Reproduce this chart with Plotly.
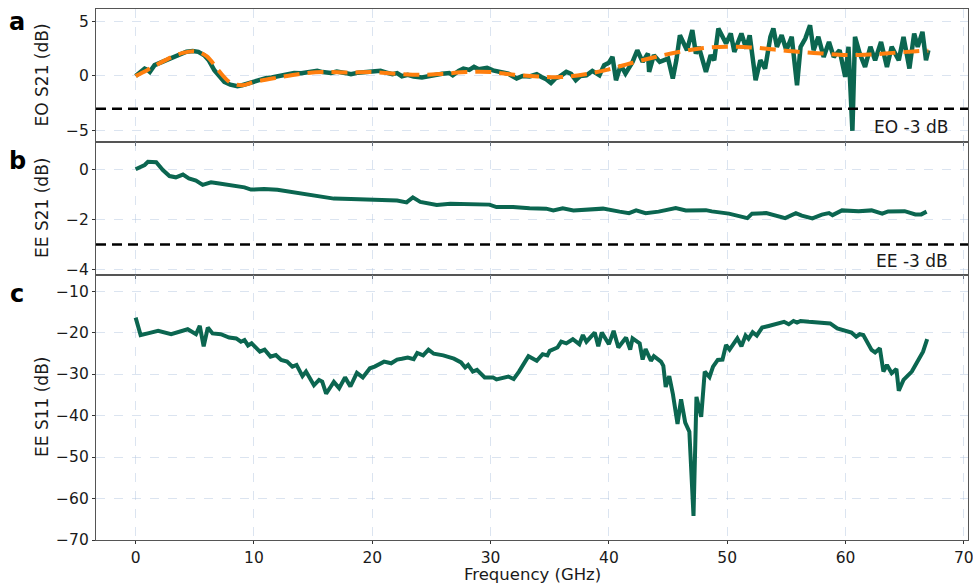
import plotly.graph_objects as go
from plotly.subplots import make_subplots

# ---------------- data ----------------
eo_freq = [0, 0.4, 0.76, 1.0, 1.2, 1.6, 2.2, 2.86, 3.4, 3.85, 4.3, 4.83, 5.3, 5.8, 6.2, 6.65, 7.1, 7.5, 8.0, 8.6,
           9.0, 9.5, 10.0, 10.4, 11.0, 11.5, 12.0, 12.5, 13.0, 13.4, 14.0, 14.5, 15.0, 15.35, 15.8, 16.5, 17.0, 17.3,
           17.8, 18.2, 18.8, 19.5, 20.0, 20.7, 21.2, 21.7, 22.1, 22.5, 23.0, 23.5, 24.2, 24.8, 25.4, 25.9, 26.5, 26.8,
           27.3, 27.7, 28.2, 28.6, 29.0, 29.3, 29.7, 30.2, 30.6, 31.0, 31.5, 32.2, 32.7, 33.3, 33.9, 34.3, 34.7, 35.1,
           35.5, 35.8, 36.4, 36.8, 37.2, 37.6, 38.1, 38.6, 39.2, 39.6, 40.0, 40.3, 40.6, 41.0, 41.4, 42.0, 42.4, 42.85,
           43.3, 43.4, 43.8, 44.3, 45.0, 45.4, 45.7, 46.0, 46.3, 46.6, 47.05, 47.35, 47.6, 48.2, 48.6, 48.9, 49.25,
           49.6, 49.9, 50.3, 50.6, 51.2, 51.6, 51.9, 52.4, 52.8, 53.2, 53.65, 53.9, 54.2, 54.6, 55.0, 55.45, 55.9,
           56.2, 56.6, 57.0, 57.3, 57.7, 58.15, 58.6, 59.0, 59.5, 59.97, 60.25, 60.58, 60.8, 61.2, 61.65, 62.1, 62.5,
           63.0, 63.5, 63.9, 64.5, 64.9, 65.4, 65.8, 66.1, 66.5, 66.8, 67.0]
eo_s21 = [0, 0.3, 0.67, 0.55, 0.37, 0.98, 1.25, 1.59, 1.9, 2.1, 2.2, 2.28, 2.2, 1.89, 1.4, 0.52, 0.0, -0.55, -0.8, -0.94,
          -0.85, -0.7, -0.5, -0.33, -0.2, -0.15, -0.03, 0.0, 0.15, 0.27, 0.25, 0.35, 0.38, 0.46, 0.35, 0.27, 0.4, 0.37,
          0.25, 0.15, 0.3, 0.35, 0.4, 0.46, 0.3, 0.15, 0.25, -0.03, 0.1, -0.05, -0.15, 0.0, 0.15, 0.2, 0.27, 0.06,
          0.46, 0.67, 0.55, 0.82, 0.6, 0.7, 0.73, 0.5, 0.4, 0.27, 0.2, -0.24, 0.0, -0.05, 0.15, -0.1, -0.3, -0.64,
          -0.2, -0.09, 0.37, 0.2, -0.39, 0.0, 0.06, 0.46, 0.06, 0.98, 1.2, 1.73, -0.39, 0.98, 0.22, 1.28, 2.34, 1.28,
          2.04, 0.37, 1.89, 1.28, 1.58, -0.24, 1.43, 3.71, 2.96, 2.34, 4.17, 2.04, 2.65, 0.37, 1.89, 1.43, 4.32,
          3.56, 2.96, 3.87, 2.19, 3.87, 2.5, 3.71, -0.39, 1.43, 0.67, 3.56, 4.32, 2.65, 3.71, 2.34, 3.56, -0.85,
          2.65, 3.41, 4.62, 2.34, 3.56, 1.73, 3.1, 1.73, 2.34, -0.09, 2.65, -5.0, 3.56, 2.04, 0.82, 2.65, 1.43,
          3.1, 0.82, 2.65, 1.43, 3.56, 0.67, 3.87, 2.65, 4.02, 1.43, 2.34]

fit_freq = [0, 1, 2, 3, 4, 5, 6, 7, 8, 9, 10, 12, 14, 16, 18, 20, 22, 24, 26, 28, 30, 32, 34, 36, 38, 40, 42, 44,
            46, 48, 50, 52, 54, 56, 58, 60, 62, 64, 66, 67]
fit_s21 = [0, 0.55, 1.15, 1.7, 2.1, 2.25, 1.8, 0.5, -0.6, -0.85, -0.55, -0.15, 0.2, 0.35, 0.3, 0.35, 0.2, 0.1, 0.2,
           0.35, 0.35, 0.1, -0.05, -0.1, 0.15, 0.6, 1.2, 1.75, 2.2, 2.55, 2.65, 2.6, 2.4, 2.2, 2.05, 1.9, 1.95, 2.1,
           2.25, 2.3]

ee21_freq = [0, 0.76, 1.04, 1.74, 2.3, 2.86, 3.4, 4.0, 4.5, 5.1, 5.67, 6.37, 6.93, 7.5, 8.6, 9.2, 9.74, 10.86, 11.98,
             13.67, 15.35, 16.75, 18.2, 19.56, 20.7, 22.1, 22.9, 23.43, 24.06, 25.45, 26.6, 27.7, 29.4, 29.9, 30.5,
             31.9, 33.3, 34.7, 35.3, 36.1, 37.0, 38.4, 39.5, 40.9, 41.7, 42.3, 43.1, 44.2, 45.65, 46.5, 48.2, 48.7,
             50.14, 51.7, 52.1, 53.3, 54.9, 55.8, 56.3, 57.2, 58.0, 58.6, 58.9, 59.7, 61.1, 62.2, 63.1, 63.6, 64.5,
             65.0, 65.9, 66.4, 66.85]
ee21 = [0, 0.17, 0.3, 0.28, -0.03, -0.27, -0.32, -0.21, -0.36, -0.45, -0.62, -0.52, -0.56, -0.61, -0.69, -0.72,
        -0.81, -0.79, -0.82, -0.95, -1.06, -1.17, -1.19, -1.21, -1.24, -1.25, -1.32, -1.12, -1.3, -1.42, -1.38,
        -1.39, -1.44, -1.41, -1.51, -1.51, -1.55, -1.57, -1.64, -1.56, -1.64, -1.59, -1.57, -1.69, -1.75, -1.64,
        -1.75, -1.69, -1.55, -1.64, -1.63, -1.68, -1.77, -1.95, -1.77, -1.75, -1.95, -1.75, -1.85, -1.96, -1.81,
        -1.75, -1.83, -1.64, -1.67, -1.64, -1.77, -1.68, -1.69, -1.67, -1.8, -1.8, -1.69]

ee11_freq = [0, 0.42, 1.03, 1.9, 3.0, 3.85, 4.4, 5.1, 5.42, 5.75, 6.1, 6.5, 7.2, 7.9, 8.5, 8.9, 9.2, 9.5, 9.8, 10.5,
             10.9, 11.4, 11.85, 12.3, 12.8, 13.25, 13.6, 14.1, 14.4, 15.07, 15.5, 15.77, 16.1, 16.5, 16.75, 17.2, 17.7,
             18.15, 18.7, 19.2, 19.8, 20.2, 21.0, 21.6, 22.1, 22.5, 23.0, 23.5, 23.8, 24.3, 24.75, 25.2, 26.0, 26.9,
             27.5, 27.85, 28.1, 28.5, 28.85, 29.5, 30.2, 30.5, 31.5, 31.95, 32.4, 33.2, 33.9, 34.4, 34.8, 35.0, 35.65,
             35.97, 36.4, 36.95, 37.5, 37.8, 38.1, 38.8, 39.1, 39.4, 40.0, 40.4, 40.8, 41.45, 41.8, 42.0, 42.6, 42.85,
             43.1, 43.55, 43.8, 44.4, 44.6, 44.8, 45.1, 45.4, 45.8, 46.1, 46.45, 46.8, 47.15, 47.4, 47.8, 48.1, 48.5,
             48.8, 49.2, 49.6, 49.9, 50.2, 50.85, 51.2, 51.55, 51.8, 52.15, 52.5, 52.95, 53.5, 54.1, 54.8, 55.2, 55.6,
             55.9, 56.2, 56.9, 58.3, 58.7, 59.3, 60.1, 60.5, 60.9, 61.2, 61.5, 61.8, 62.2, 62.5, 62.9, 63.2, 63.5,
             63.9, 64.3, 64.5, 64.9, 65.6, 66.1, 66.55, 66.9]
ee11 = [-16.4, -20.6, -20.2, -19.6, -20.4, -19.6, -19.2, -20.4, -18.4, -23.3, -18.8, -20.2, -20.4, -21.2, -21.4,
        -22.2, -21.8, -23.1, -22.6, -24.6, -24.1, -25.8, -25.4, -26.6, -27.0, -28.2, -27.8, -30.5, -29.4, -32.7,
        -31.4, -31.8, -34.7, -33.0, -31.9, -33.4, -30.8, -33.0, -29.7, -30.8, -28.6, -28.2, -27.0, -27.4, -26.5,
        -26.3, -26.0, -26.4, -24.9, -25.5, -24.1, -25.1, -25.5, -26.3, -27.2, -28.4, -27.8, -29.4, -29.0, -30.8,
        -30.8, -31.3, -30.6, -31.2, -29.4, -25.7, -26.8, -25.2, -25.5, -24.4, -23.6, -22.2, -22.6, -21.6, -22.8,
        -20.6, -22.2, -20.0, -23.3, -20.0, -22.8, -19.6, -23.6, -21.2, -24.1, -21.4, -22.6, -26.5, -24.0, -26.8,
        -25.7, -27.0, -28.0, -33.1, -30.5, -34.7, -42.0, -36.1, -41.7, -43.9, -64.2, -35.5, -40.3, -29.4, -30.7,
        -28.2, -26.6, -26.5, -23.0, -24.1, -21.4, -23.3, -20.7, -21.5, -19.9, -20.7, -18.8, -18.4, -18.0, -17.4,
        -18.0, -17.2, -17.6, -17.2, -17.4, -17.8, -17.8, -19.0, -19.6, -20.0, -21.0, -20.4, -20.6, -22.2, -24.2,
        -24.8, -23.8, -29.4, -27.8, -29.8, -28.8, -34.0, -31.4, -29.4, -26.8, -24.6, -21.6]

x_ticks = [0, 10, 20, 30, 40, 50, 60, 70]
ya_ticks = [-5, 0, 5]
yb_ticks = [-4, -2, 0]
yc_ticks = [-70, -60, -50, -40, -30, -20, -10]

GREEN = "#0b6650"
ORANGE = "#ff7f0e"
FONT = "DejaVu Sans"
TXT = "#1a1a1a"

fig = make_subplots(rows=3, cols=1, shared_xaxes=True, vertical_spacing=0, row_heights=[0.25, 0.25, 0.5])

fig.add_trace(go.Scatter(x=eo_freq, y=eo_s21, mode="lines", line=dict(color=GREEN, width=4.5), showlegend=False), 1, 1)
fig.add_trace(go.Scatter(x=fit_freq, y=fit_s21, mode="lines", line=dict(color=ORANGE, width=4, dash="16px,8px", shape="spline"),
                         showlegend=False), 1, 1)
fig.add_trace(go.Scatter(x=ee21_freq, y=ee21, mode="lines", line=dict(color=GREEN, width=4), showlegend=False), 2, 1)
fig.add_trace(go.Scatter(x=ee11_freq, y=ee11, mode="lines", line=dict(color=GREEN, width=4), showlegend=False), 3, 1)

for r in (1, 2):
    fig.add_shape(type="line", xref="x domain" if r == 1 else "x2 domain", yref="y" if r == 1 else "y2",
                  x0=0, x1=1, y0=-3, y1=-3, line=dict(color="black", width=2.5, dash="10px,6px"), layer="above")

grid = dict(showgrid=True, gridcolor="rgba(176,196,222,0.45)", griddash="dash", gridwidth=1,
            showline=True, linecolor="#555", linewidth=1.2, mirror=True, zeroline=False, automargin=False,
            ticks="outside", ticklen=3, tickcolor="#333", ticklabeloverflow="allow",
            tickfont=dict(family=FONT, size=15.5, color=TXT))

for r in (1, 2, 3):
    fig.update_xaxes(range=[-3.35, 70.35], tickvals=x_ticks, showticklabels=(r == 3), row=r, col=1, **grid)
fig.update_yaxes(range=[-6, 6.1], tickvals=ya_ticks, row=1, col=1, **grid)
fig.update_yaxes(range=[-4.2, 1.1], tickvals=yb_ticks, row=2, col=1, **grid)
fig.update_yaxes(range=[-70, -6], tickvals=yc_ticks, row=3, col=1, **grid)

H0, H1 = 9, 540
def py2paper(py):
    return (H1 - py) / (H1 - H0)

L, R = 96, 968
def px2paper(px):
    return (px - L) / (R - L)

annotations = [
    dict(text="EO S21 (dB)", x=px2paper(42), y=py2paper(75.5), textangle=-90, size=17),
    dict(text="EE S21 (dB)", x=px2paper(42), y=py2paper(208), textangle=-90, size=17),
    dict(text="EE S11 (dB)", x=px2paper(42), y=py2paper(407), textangle=-90, size=17),
    dict(text="Frequency (GHz)", x=px2paper(532), y=py2paper(574), textangle=0, size=16.5),
]
for a in annotations:
    size = a.pop("size")
    fig.add_annotation(xref="paper", yref="paper", showarrow=False, xanchor="center", yanchor="middle", borderpad=0,
                       font=dict(family=FONT, size=size, color=TXT), **a)

for letter, py in (("a", 22), ("b", 161), ("c", 294)):
    fig.add_annotation(text=f"<b>{letter}</b>", xref="paper", yref="paper", x=px2paper(17), y=py2paper(py),
                       showarrow=False, xanchor="center", yanchor="middle", font=dict(family=FONT, size=24, color="black"))

fig.add_annotation(text="EO -3 dB", xref="x", yref="y", x=68.8, y=-4.68, showarrow=False, xanchor="right",
                   yanchor="middle", font=dict(family=FONT, size=17, color=TXT))
fig.add_annotation(text="EE -3 dB", xref="x2", yref="y2", x=68.8, y=-3.68, showarrow=False, xanchor="right",
                   yanchor="middle", font=dict(family=FONT, size=17, color=TXT))

fig.update_layout(width=973, height=584, margin=dict(l=L, r=973 - R, t=H0, b=584 - H1),
                  plot_bgcolor="white", paper_bgcolor="white", font=dict(family=FONT))

fig.write_html("out.html")
